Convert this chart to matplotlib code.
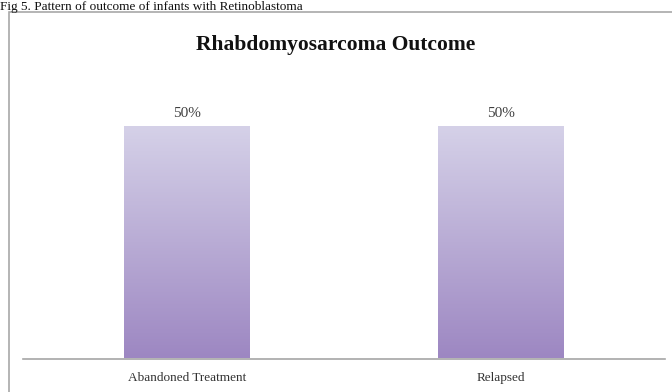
import matplotlib.pyplot as plt
import numpy as np
from matplotlib.patches import Rectangle
from matplotlib.colors import LinearSegmentedColormap

# --- data ---------------------------------------------------------------------
categories = ['Abandoned Treatment', 'Relapsed']
percent = [50, 50]
value_labels = ['50%', '50%']

caption = 'Fig 5. Pattern of outcome of infants with Retinoblastoma'
title = 'Rhabdomyosarcoma Outcome'

plt.rcParams['font.family'] = ['Liberation Serif', 'DejaVu Serif']

fig = plt.figure(figsize=(6.72, 3.92), dpi=100)
W, H = 672.0, 392.0

# outer chart frame (only top/left visible in the crop)
fig.patches.append(Rectangle((9 / W, -0.1), 1.2, 1 - 12 / H + 0.1,
                             transform=fig.transFigure, fill=False,
                             ec='#a8a8a8', lw=1.2, zorder=0))
fig.text(0.0, 1 - 10 / H, caption, fontsize=9.5, color='#111111',
         va='baseline', ha='left')
fig.text(336 / W, 1 - 45 / H, title, fontsize=15.5, fontweight='bold',
         color='#111111', ha='center', va='center')

ax = fig.add_axes([23 / W, 1 - 358.5 / H, 642 / W, 277.5 / H])
x = np.arange(len(categories))
bars = ax.bar(x, percent, width=0.4, color='none', zorder=2)

# vertical gradient fill inside each bar
grad = np.linspace(0, 1, 256).reshape(-1, 1)
cmap = LinearSegmentedColormap.from_list('lav', ['#9d87c2', '#d5d1e8'])
for b in bars:
    ax.imshow(grad, cmap=cmap, origin='lower', aspect='auto',
              extent=(b.get_x(), b.get_x() + b.get_width(), 0, b.get_height()),
              zorder=1)

for xi, v, lbl in zip(x, percent, value_labels):
    ax.annotate(lbl, (xi, v), xytext=(0, 5), textcoords='offset points',
                ha='center', va='bottom', fontsize=11, color='#404040')

ax.set_xlim(-0.52, 1.52)
ax.set_ylim(0, 60)
ax.set_xticks(x)
ax.set_xticklabels(categories, fontsize=9.5, color='#333333')
ax.tick_params(axis='x', length=0, pad=10)
ax.set_yticks([])
for s in ['top', 'right', 'left']:
    ax.spines[s].set_visible(False)
ax.spines['bottom'].set_color('#a6a6a6')
ax.spines['bottom'].set_linewidth(1.2)
ax.patch.set_alpha(0)

plt.savefig('out.png', dpi=100)
